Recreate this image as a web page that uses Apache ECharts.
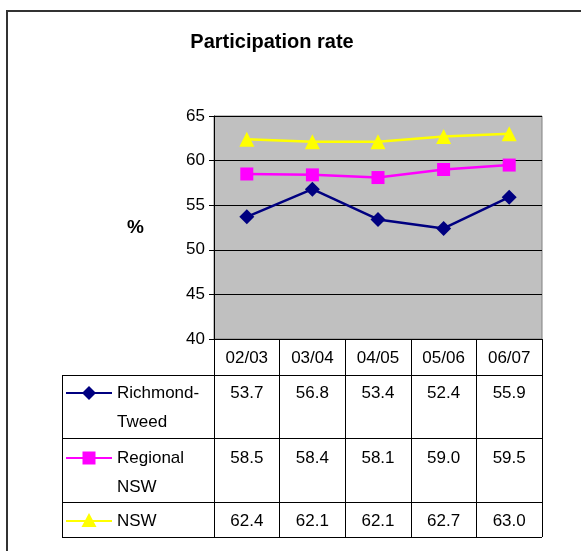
<!DOCTYPE html>
<html>
<head>
<meta charset="utf-8">
<script src="https://cdn.jsdelivr.net/npm/echarts@6/dist/echarts.min.js"></script>
<style>
html,body{margin:0;padding:0;background:#fff;}
#c{width:581px;height:551px;}
</style>
</head>
<body>
<div id="c"></div>
<script>
var categories = ['02/03', '03/04', '04/05', '05/06', '06/07'];
var seriesNames = ['Richmond-Tweed', 'Regional NSW', 'NSW'];
var seriesLabels = [['Richmond-', 'Tweed'], ['Regional', 'NSW'], ['NSW']];
var richmondTweed = [53.7, 56.8, 53.4, 52.4, 55.9];
var regionalNSW = [58.5, 58.4, 58.1, 59.0, 59.5];
var nsw = [62.4, 62.1, 62.1, 62.7, 63.0];
var yTicks = {min: 40, max: 65, interval: 5};

var FONT = "'Liberation Sans', Arial, sans-serif";
var colors = ['#000080', '#FF00FF', '#FFFF00'];
var symbols = ['diamond', 'rect', 'triangle'];
var symbolSizes = [15, 13, 15];
var allData = [richmondTweed, regionalNSW, nsw];

var G = {left: 214, right: 39, top: 116, bottom: 212};
var chart = echarts.init(document.getElementById('c'));

var series = allData.map(function (d, i) {
  return {
    name: seriesNames[i], type: 'line', data: d,
    symbol: symbols[i], symbolSize: symbolSizes[i],
    lineStyle: {color: colors[i], width: 2.5},
    itemStyle: {color: colors[i]},
    animation: false
  };
});

chart.setOption({
  animation: false,
  title: {
    text: 'Participation rate', left: 267, top: 27, textAlign: 'center',
    textStyle: {fontFamily: FONT, fontSize: 20, fontWeight: 'bold', color: '#000'}
  },
  grid: {
    left: G.left, right: G.right, top: G.top, bottom: G.bottom,
    show: true, backgroundColor: '#C0C0C0', borderColor: '#808080', borderWidth: 1
  },
  xAxis: {
    type: 'category', data: categories, boundaryGap: true,
    axisLine: {lineStyle: {color: '#000', width: 1}},
    axisTick: {show: true, length: 198, lineStyle: {color: '#000', width: 1}},
    axisLabel: {fontFamily: FONT, fontSize: 17, color: '#000', margin: 11}
  },
  yAxis: {
    type: 'value', min: yTicks.min, max: yTicks.max, interval: yTicks.interval,
    name: '%', nameLocation: 'middle', nameRotate: 0, nameGap: 70,
    nameTextStyle: {fontFamily: FONT, fontSize: 19, fontWeight: 'bold', color: '#000', padding: [0, 0, 18, 0]},
    axisLine: {show: true, lineStyle: {color: '#000', width: 1}},
    axisTick: {show: true, length: 5, lineStyle: {color: '#000'}},
    axisLabel: {fontFamily: FONT, fontSize: 17, color: '#000', margin: 9},
    splitLine: {show: true, lineStyle: {color: '#000', width: 1}}
  },
  series: series
});

// Build data table beneath the plot, positioned from the axis scale
var W = 581, H = 551;
var plotRight = W - G.right;
var tableLeft = 62;
var rowTops = [375, 438, 502, 537];
var rowTextY = [[393, 422], [458, 487], [521]];
var graphics = [];

// outer border
graphics.push({type: 'rect', shape: {x: 7, y: 11, width: 590, height: 560},
  style: {fill: 'none', stroke: '#333', lineWidth: 2}, silent: true});

rowTops.forEach(function (y) {
  graphics.push({type: 'line', shape: {x1: tableLeft, y1: y + 0.5, x2: plotRight, y2: y + 0.5},
    style: {stroke: '#000', lineWidth: 1}, silent: true});
});
graphics.push({type: 'line', shape: {x1: tableLeft + 0.5, y1: rowTops[0], x2: tableLeft + 0.5, y2: rowTops[3]},
  style: {stroke: '#000', lineWidth: 1}, silent: true});

allData.forEach(function (d, si) {
  var ky = rowTextY[si][0];
  graphics.push({type: 'line', shape: {x1: 66, y1: ky, x2: 112, y2: ky},
    style: {stroke: colors[si], lineWidth: 2}, silent: true});
  var mx = 89, s = 7;
  if (symbols[si] === 'diamond') {
    graphics.push({type: 'polygon', shape: {points: [[mx, ky - s], [mx + s, ky], [mx, ky + s], [mx - s, ky]]},
      style: {fill: colors[si]}, silent: true});
  } else if (symbols[si] === 'rect') {
    graphics.push({type: 'rect', shape: {x: mx - 6.5, y: ky - 6.5, width: 13, height: 13},
      style: {fill: colors[si]}, silent: true});
  } else {
    graphics.push({type: 'polygon', shape: {points: [[mx, ky - 8], [mx + 7.5, ky + 6], [mx - 7.5, ky + 6]]},
      style: {fill: colors[si]}, silent: true});
  }
  seriesLabels[si].forEach(function (t, li) {
    graphics.push({type: 'text', x: 117, y: rowTextY[si][li],
      style: {text: t, fontFamily: FONT, fontSize: 17, fill: '#000', textVerticalAlign: 'middle', textAlign: 'left'},
      silent: true});
  });
  d.forEach(function (v, ci) {
    var px = chart.convertToPixel({xAxisIndex: 0}, ci);
    graphics.push({type: 'text', x: px, y: rowTextY[si][0],
      style: {text: v.toFixed(1), fontFamily: FONT, fontSize: 17, fill: '#000', textAlign: 'center', textVerticalAlign: 'middle'},
      silent: true});
  });
});

chart.setOption({graphic: graphics});
</script>
</body>
</html>
